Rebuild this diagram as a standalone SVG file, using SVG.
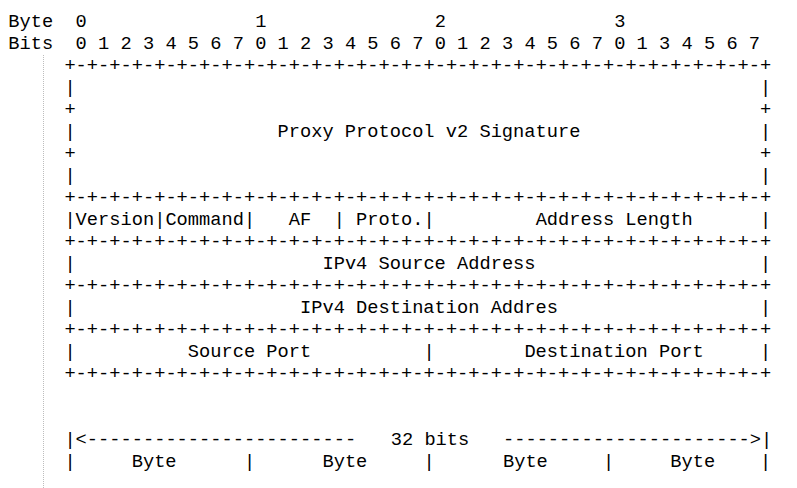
<svg xmlns="http://www.w3.org/2000/svg" width="797" height="488" viewBox="0 0 797 488">
<style>
text { font-family: "Liberation Mono", "Courier New", monospace; font-size: 18.7px; fill: #000; }
.guide { stroke: #bdbdbd; stroke-width: 1; stroke-dasharray: 1 1; }
</style>
<rect width="797" height="488" fill="#fff"/>
<line class="guide" x1="43.5" y1="55" x2="43.5" y2="488"/>

<g id="header">
  <text x="8.3" y="26.5">Byte</text>
  <text x="75.62" y="26.5">0</text>
  <text x="255.14" y="26.5">1</text>
  <text x="434.66" y="26.5">2</text>
  <text x="614.18" y="26.5">3</text>
  <text x="8.3" y="48.5">Bits</text>
  <text x="75.62" y="48.5" textLength="684.42" lengthAdjust="spacing">0 1 2 3 4 5 6 7 0 1 2 3 4 5 6 7 0 1 2 3 4 5 6 7 0 1 3 4 5 6 7</text>
</g>

<g id="connectors">
  <text x="64.4" y="70.5" textLength="706.86" lengthAdjust="spacing">+-+-+-+-+-+-+-+-+-+-+-+-+-+-+-+-+-+-+-+-+-+-+-+-+-+-+-+-+-+-+-+</text>
  <text x="64.4" y="202.5" textLength="706.86" lengthAdjust="spacing">+-+-+-+-+-+-+-+-+-+-+-+-+-+-+-+-+-+-+-+-+-+-+-+-+-+-+-+-+-+-+-+</text>
  <text x="64.4" y="246.5" textLength="706.86" lengthAdjust="spacing">+-+-+-+-+-+-+-+-+-+-+-+-+-+-+-+-+-+-+-+-+-+-+-+-+-+-+-+-+-+-+-+</text>
  <text x="64.4" y="290.5" textLength="706.86" lengthAdjust="spacing">+-+-+-+-+-+-+-+-+-+-+-+-+-+-+-+-+-+-+-+-+-+-+-+-+-+-+-+-+-+-+-+</text>
  <text x="64.4" y="334.5" textLength="706.86" lengthAdjust="spacing">+-+-+-+-+-+-+-+-+-+-+-+-+-+-+-+-+-+-+-+-+-+-+-+-+-+-+-+-+-+-+-+</text>
  <text x="64.4" y="378.5" textLength="706.86" lengthAdjust="spacing">+-+-+-+-+-+-+-+-+-+-+-+-+-+-+-+-+-+-+-+-+-+-+-+-+-+-+-+-+-+-+-+</text>
  <!-- signature block sides -->
  <text x="64.4" y="92.5">|</text><text x="760.04" y="92.5">|</text>
  <text x="64.4" y="114.5">+</text><text x="760.04" y="114.5">+</text>
  <text x="64.4" y="136.5">|</text><text x="760.04" y="136.5">|</text>
  <text x="64.4" y="158.5">+</text><text x="760.04" y="158.5">+</text>
  <text x="64.4" y="180.5">|</text><text x="760.04" y="180.5">|</text>
  <!-- row 2 separators -->
  <text x="64.4" y="224.5">|</text>
  <text x="154.16" y="224.5">|</text>
  <text x="243.92" y="224.5">|</text>
  <text x="333.68" y="224.5">|</text>
  <text x="423.44" y="224.5">|</text>
  <text x="760.04" y="224.5">|</text>
  <!-- address rows -->
  <text x="64.4" y="268.5">|</text><text x="760.04" y="268.5">|</text>
  <text x="64.4" y="312.5">|</text><text x="760.04" y="312.5">|</text>
  <text x="64.4" y="356.5">|</text><text x="423.44" y="356.5">|</text><text x="760.04" y="356.5">|</text>
</g>

<g id="field-signature">
  <text x="277.58" y="136.5">Proxy Protocol v2 Signature</text>
</g>
<g id="field-version">
  <text x="75.62" y="224.5">Version</text>
</g>
<g id="field-command">
  <text x="165.38" y="224.5">Command</text>
</g>
<g id="field-af">
  <text x="288.8" y="224.5">AF</text>
</g>
<g id="field-proto">
  <text x="356.12" y="224.5">Proto.</text>
</g>
<g id="field-address-length">
  <text x="535.64" y="224.5">Address Length</text>
</g>
<g id="field-src-addr">
  <text x="322.46" y="268.5">IPv4 Source Address</text>
</g>
<g id="field-dst-addr">
  <text x="300.02" y="312.5">IPv4 Destination Addres</text>
</g>
<g id="field-src-port">
  <text x="187.82" y="356.5">Source Port</text>
</g>
<g id="field-dst-port">
  <text x="524.42" y="356.5">Destination Port</text>
</g>

<g id="legend">
  <text x="64.4" y="444.5" textLength="291.72" lengthAdjust="spacing">|&lt;------------------------</text>
  <text x="390.78" y="444.5">32 bits</text>
  <text x="502.98" y="444.5" textLength="269.28" lengthAdjust="spacing">----------------------&gt;|</text>
  <text x="64.4" y="466.5">|</text>
  <text x="131.72" y="466.5">Byte</text>
  <text x="243.92" y="466.5">|</text>
  <text x="322.46" y="466.5">Byte</text>
  <text x="423.44" y="466.5">|</text>
  <text x="502.98" y="466.5">Byte</text>
  <text x="602.96" y="466.5">|</text>
  <text x="670.28" y="466.5">Byte</text>
  <text x="760.04" y="466.5">|</text>
</g>
</svg>
